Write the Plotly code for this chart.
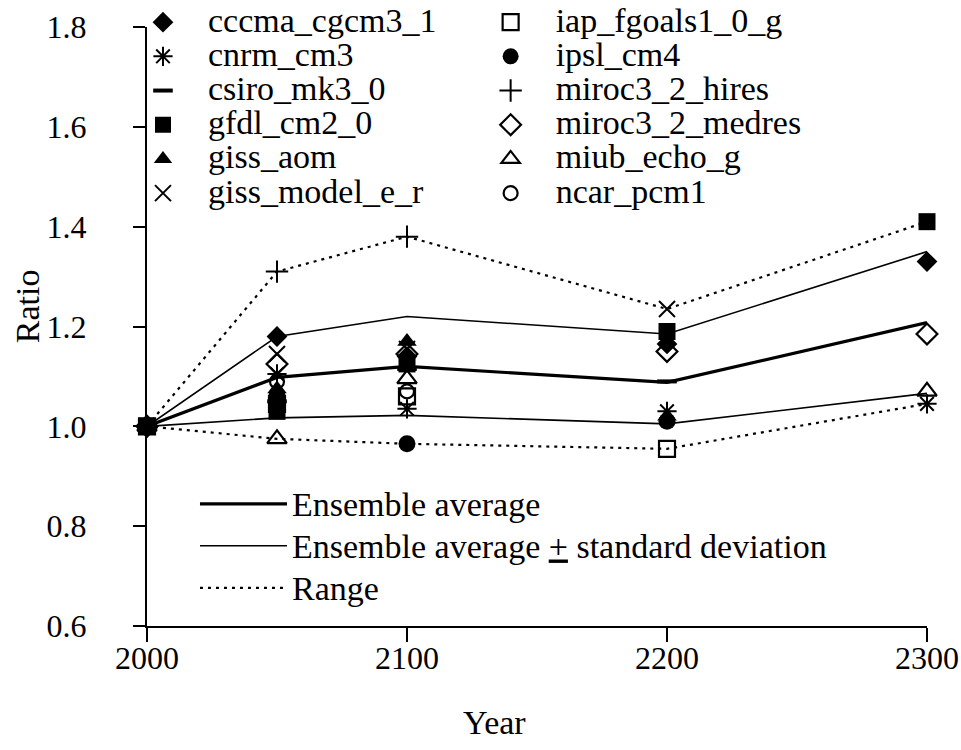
import plotly.graph_objects as go

# ---------------- data ----------------
years = [2000, 2050, 2100, 2200, 2300]
tick_years = [2000, 2100, 2200, 2300]
y_ticks = [0.6, 0.8, 1.0, 1.2, 1.4, 1.6, 1.8]

cccma_cgcm3_1 = [1.0, 1.18, 1.14, 1.165, 1.33]
cnrm_cm3 = [1.0, 1.105, 1.035, 1.03, 1.045]
csiro_mk3_0 = [1.0, 1.05, 1.115, 1.09, None]
gfdl_cm2_0 = [1.0, 1.03, 1.125, 1.19, 1.41]
giss_aom = [1.0, 1.075, 1.17, 1.02, None]
giss_model_e_r = [1.0, 1.145, 1.155, 1.235, None]
iap_fgoals1_0_g = [1.0, 1.045, 1.06, 0.955, None]
ipsl_cm4 = [1.0, 1.06, 0.965, 1.01, None]
miroc3_2_hires = [1.0, 1.31, 1.38, None, None]
miroc3_2_medres = [1.0, 1.125, 1.145, 1.15, 1.185]
miub_echo_g = [1.0, 0.975, 1.095, None, 1.07]
ncar_pcm1 = [1.0, 1.09, 1.07, None, None]

ens_mean = [1.0, 1.098, 1.12, 1.088, 1.208]
ens_upper = [1.0, 1.18, 1.22, 1.185, 1.35]
ens_lower = [1.0, 1.017, 1.022, 1.005, 1.066]
range_max = [1.0, 1.31, 1.38, 1.235, 1.41]
range_min = [1.0, 0.975, 0.965, 0.955, 1.045]

col1 = [
    ("cccma_cgcm3_1", cccma_cgcm3_1),
    ("cnrm_cm3", cnrm_cm3),
    ("csiro_mk3_0", csiro_mk3_0),
    ("gfdl_cm2_0", gfdl_cm2_0),
    ("giss_aom", giss_aom),
    ("giss_model_e_r", giss_model_e_r),
]
col2 = [
    ("iap_fgoals1_0_g", iap_fgoals1_0_g),
    ("ipsl_cm4", ipsl_cm4),
    ("miroc3_2_hires", miroc3_2_hires),
    ("miroc3_2_medres", miroc3_2_medres),
    ("miub_echo_g", miub_echo_g),
    ("ncar_pcm1", ncar_pcm1),
]

# ---------------- styles ----------------
FONT = "Liberation Serif, Times New Roman, serif"
style = {
    "cccma_cgcm3_1": dict(symbol="diamond", size=16, line=dict(width=0)),
    "cnrm_cm3": dict(symbol="asterisk-open", size=16, line=dict(width=2, color="black")),
    "csiro_mk3_0": dict(symbol="line-ew-open", size=14, line=dict(width=4, color="black")),
    "gfdl_cm2_0": dict(symbol="square", size=17, line=dict(width=0)),
    "giss_aom": dict(symbol="triangle-up", size=17, line=dict(width=0)),
    "giss_model_e_r": dict(symbol="x-thin-open", size=16, line=dict(width=2, color="black")),
    "iap_fgoals1_0_g": dict(symbol="square-open", size=16, line=dict(width=2.2, color="black")),
    "ipsl_cm4": dict(symbol="circle", size=17, line=dict(width=0)),
    "miroc3_2_hires": dict(symbol="cross-thin-open", size=16, line=dict(width=2, color="black")),
    "miroc3_2_medres": dict(symbol="diamond-open", size=16, line=dict(width=2.2, color="black")),
    "miub_echo_g": dict(symbol="triangle-up-open", size=17, line=dict(width=2.2, color="black")),
    "ncar_pcm1": dict(symbol="circle-open", size=14, line=dict(width=2.2, color="black")),
}


def lab(t):
    return f'<span style="font-size:34px">{t}</span>'


fig = go.Figure()

# statistics lines
fig.add_trace(go.Scatter(x=years, y=range_max, mode="lines", name=lab("Range"),
                         line=dict(color="black", width=2.2, dash="3px,5px"),
                         legend="legend3", legendgroup="c", showlegend=True))
fig.add_trace(go.Scatter(x=years, y=range_min, mode="lines", name="Range min",
                         line=dict(color="black", width=2.2, dash="3px,5px"),
                         legend="legend3", showlegend=False))
fig.add_trace(go.Scatter(x=years, y=ens_upper, mode="lines",
                         name=lab("Ensemble average <u>+</u> standard deviation"),
                         line=dict(color="black", width=1.6),
                         legend="legend3", legendgroup="b", showlegend=True))
fig.add_trace(go.Scatter(x=years, y=ens_lower, mode="lines", name="lower",
                         line=dict(color="black", width=1.6),
                         legend="legend3", showlegend=False))
fig.add_trace(go.Scatter(x=years, y=ens_mean, mode="lines", name=lab("Ensemble average"),
                         line=dict(color="black", width=3.2),
                         legend="legend3", legendgroup="a", showlegend=True))

# model markers
for legend_id, col in (("legend", col1), ("legend2", col2)):
    for name, vals in col:
        fig.add_trace(go.Scatter(
            x=years, y=vals, mode="markers", name=lab(name),
            marker=dict(color="black", **style[name]),
            cliponaxis=False, legend=legend_id, showlegend=True,
        ))

axis_common = dict(
    showline=True, linecolor="black", linewidth=2,
    ticks="outside", tickcolor="black", tickwidth=2,
    showgrid=False, zeroline=False,
    tickfont=dict(family=FONT, size=32, color="black"),
)

fig.update_layout(
    width=961, height=750,
    margin=dict(l=147, r=34, t=27, b=124, autoexpand=False),
    paper_bgcolor="white", plot_bgcolor="white",
    font=dict(family=FONT, color="black"),
    hovermode=False,
    xaxis=dict(range=[2000, 2300], tickvals=tick_years, ticklen=14,
               ticklabelstandoff=-11, ticklabeloverflow="allow", **axis_common),
    yaxis=dict(range=[0.6, 1.8], tickvals=y_ticks, tickformat=".1f", ticklen=12,
               ticklabelstandoff=40, **axis_common),
    legend=dict(x=-0.0372, y=1.045, xanchor="left", yanchor="top",
                font=dict(family=FONT, size=24), itemwidth=80,
                bgcolor="rgba(0,0,0,0)", traceorder="normal"),
    legend2=dict(x=0.4085, y=1.045, xanchor="left", yanchor="top",
                 font=dict(family=FONT, size=24), itemwidth=80,
                 bgcolor="rgba(0,0,0,0)", traceorder="normal"),
    legend3=dict(x=0.0615, y=0.2474, xanchor="left", yanchor="top",
                 font=dict(family=FONT, size=30), itemwidth=87,
                 bgcolor="rgba(0,0,0,0)", traceorder="reversed"),
    annotations=[
        dict(text="Ratio", xref="paper", yref="paper", x=-0.1538, y=0.534,
             textangle=-90, showarrow=False, xanchor="center", yanchor="middle",
             font=dict(family=FONT, size=34, color="black")),
        dict(text="Year", xref="paper", yref="paper", x=0.446, y=-0.1603,
             showarrow=False, xanchor="center", yanchor="middle",
             font=dict(family=FONT, size=34, color="black")),
    ],
)

fig.write_html(
    "out.html",
    config={"displayModeBar": False},
    post_script="document.body.style.margin='0px';document.body.style.overflow='hidden';",
)
